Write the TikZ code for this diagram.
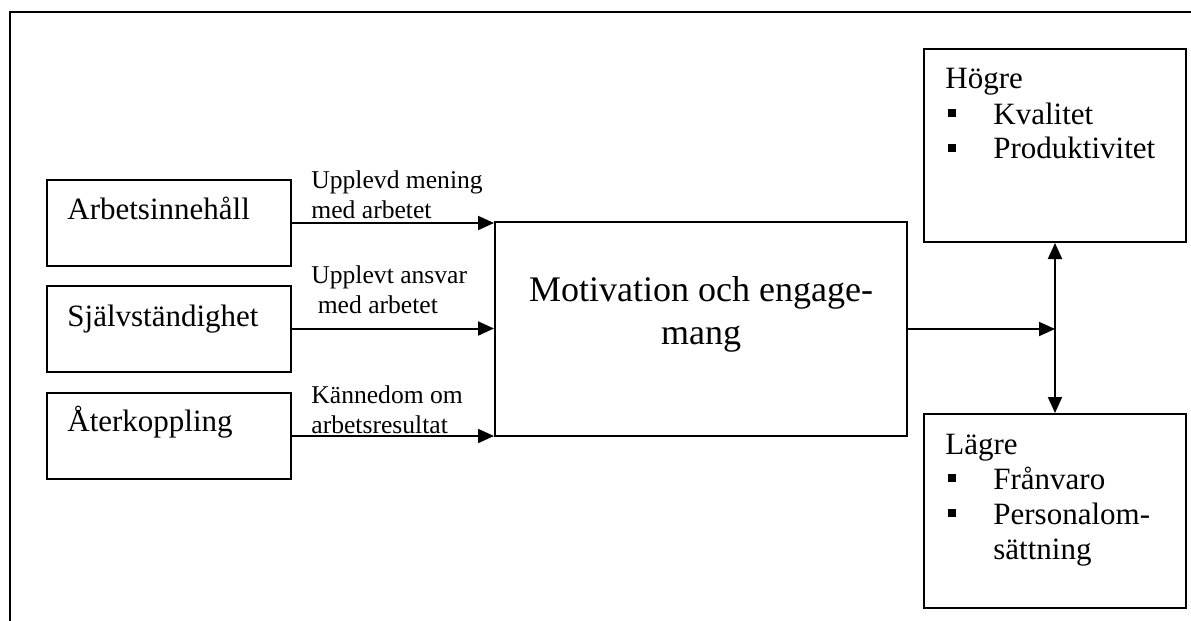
\documentclass[tikz,border=0pt]{standalone}
\usepackage{fontspec}
\setmainfont{Liberation Serif}
\usetikzlibrary{arrows.meta}
\newcommand{\sqItem}[1]{%%
  \hspace*{1.5pt}\rule[3.5pt]{4pt}{4pt}\hspace*{18.5pt}#1%%
}
\newcommand{\lineStack}[1]{%%
  \begin{tabular}[t]{@{}l@{}}#1\end{tabular}%%
}
\begin{document}
\begin{tikzpicture}[%%
  x=0.5pt,y=-0.5pt,%%
  frameStyle/.style={line width=1.1pt},%%
  boxStyle/.style={draw,line width=1pt,inner sep=0pt},%%
  arrowStyle/.style={-{Triangle[length=8pt,width=7pt]},line width=1pt},%%
  dblArrowStyle/.style={{Triangle[length=8pt,width=7pt]}-{Triangle[length=8pt,width=7pt]},line width=1pt},%%
  labelStyle/.style={inner sep=0pt,anchor=base west,font=\fontsize{12.8}{15}\selectfont},%%
  sourceStyle/.style={inner sep=0pt,anchor=base west,font=\fontsize{15.5}{17.5}\selectfont},%%
  centerStyle/.style={inner sep=0pt,align=center,font=\fontsize{18}{21.5}\selectfont}
]
\useasboundingbox (0,0) rectangle (1191,621);
%%
%% The outer frame.
\draw[frameStyle] (10,621) -- (10,12) -- (1191,12);
%%
%% The three sources.
\node[boxStyle,minimum width=122pt,minimum height=43pt] (arb) at (169,223) {};
\node[boxStyle,minimum width=122pt,minimum height=43pt] (sjalv) at (169,328.5) {};
\node[boxStyle,minimum width=122pt,minimum height=43pt] (ater) at (169,436) {};
\node[sourceStyle] (arbText) at (67,219) {Arbetsinneh\r{a}ll};
\node[sourceStyle] (sjalvText) at (67,326) {Sj\"alvst\"andighet};
\node[sourceStyle] (aterText) at (67,431) {\AA terkoppling};
%%
%% The central box.
\node[boxStyle,minimum width=206pt,minimum height=107pt] (mot) at (701,329) {};
\node[centerStyle] (motText) at (701,314) {Motivation och engage-\\mang};
%%
%% The outcomes.
\node[boxStyle,minimum width=131pt,minimum height=96.5pt] (hog) at (1055,145.5) {};
\node[boxStyle,minimum width=131pt,minimum height=97pt] (lag) at (1055,511) {};
\node[sourceStyle] (hogText) at (945,89) {%%
  \lineStack{H\"ogre\\\sqItem{Kvalitet}\\\sqItem{Produktivitet}}%%
};
\node[sourceStyle] (lagText) at (945,454) {%%
  \lineStack{L\"agre\\\sqItem{Fr\r{a}nvaro}\\\sqItem{Personalom-}\\\hspace*{24pt}s\"attning}%%
};
%%
%% The arrows and their labels.
\draw[arrowStyle] (arb.east) -- (arb.east -| mot.west);
\draw[arrowStyle] (sjalv.east) -- (sjalv.east -| mot.west);
\draw[arrowStyle] (ater.east) -- (ater.east -| mot.west);
\node[labelStyle] (lblMening) at (311,188) {\lineStack{Upplevd mening\\med arbetet}};
\node[labelStyle] (lblAnsvar) at (311,283) {\lineStack{Upplevt ansvar\\\ med arbetet}};
\node[labelStyle] (lblResultat) at (311,403) {\lineStack{K\"annedom om\\arbetsresultat}};
\coordinate (junction) at (mot.east -| hog.south);
\draw[arrowStyle] (mot.east) -- (junction);
\draw[dblArrowStyle] (hog.south) -- (lag.north);
\end{tikzpicture}
\end{document}
